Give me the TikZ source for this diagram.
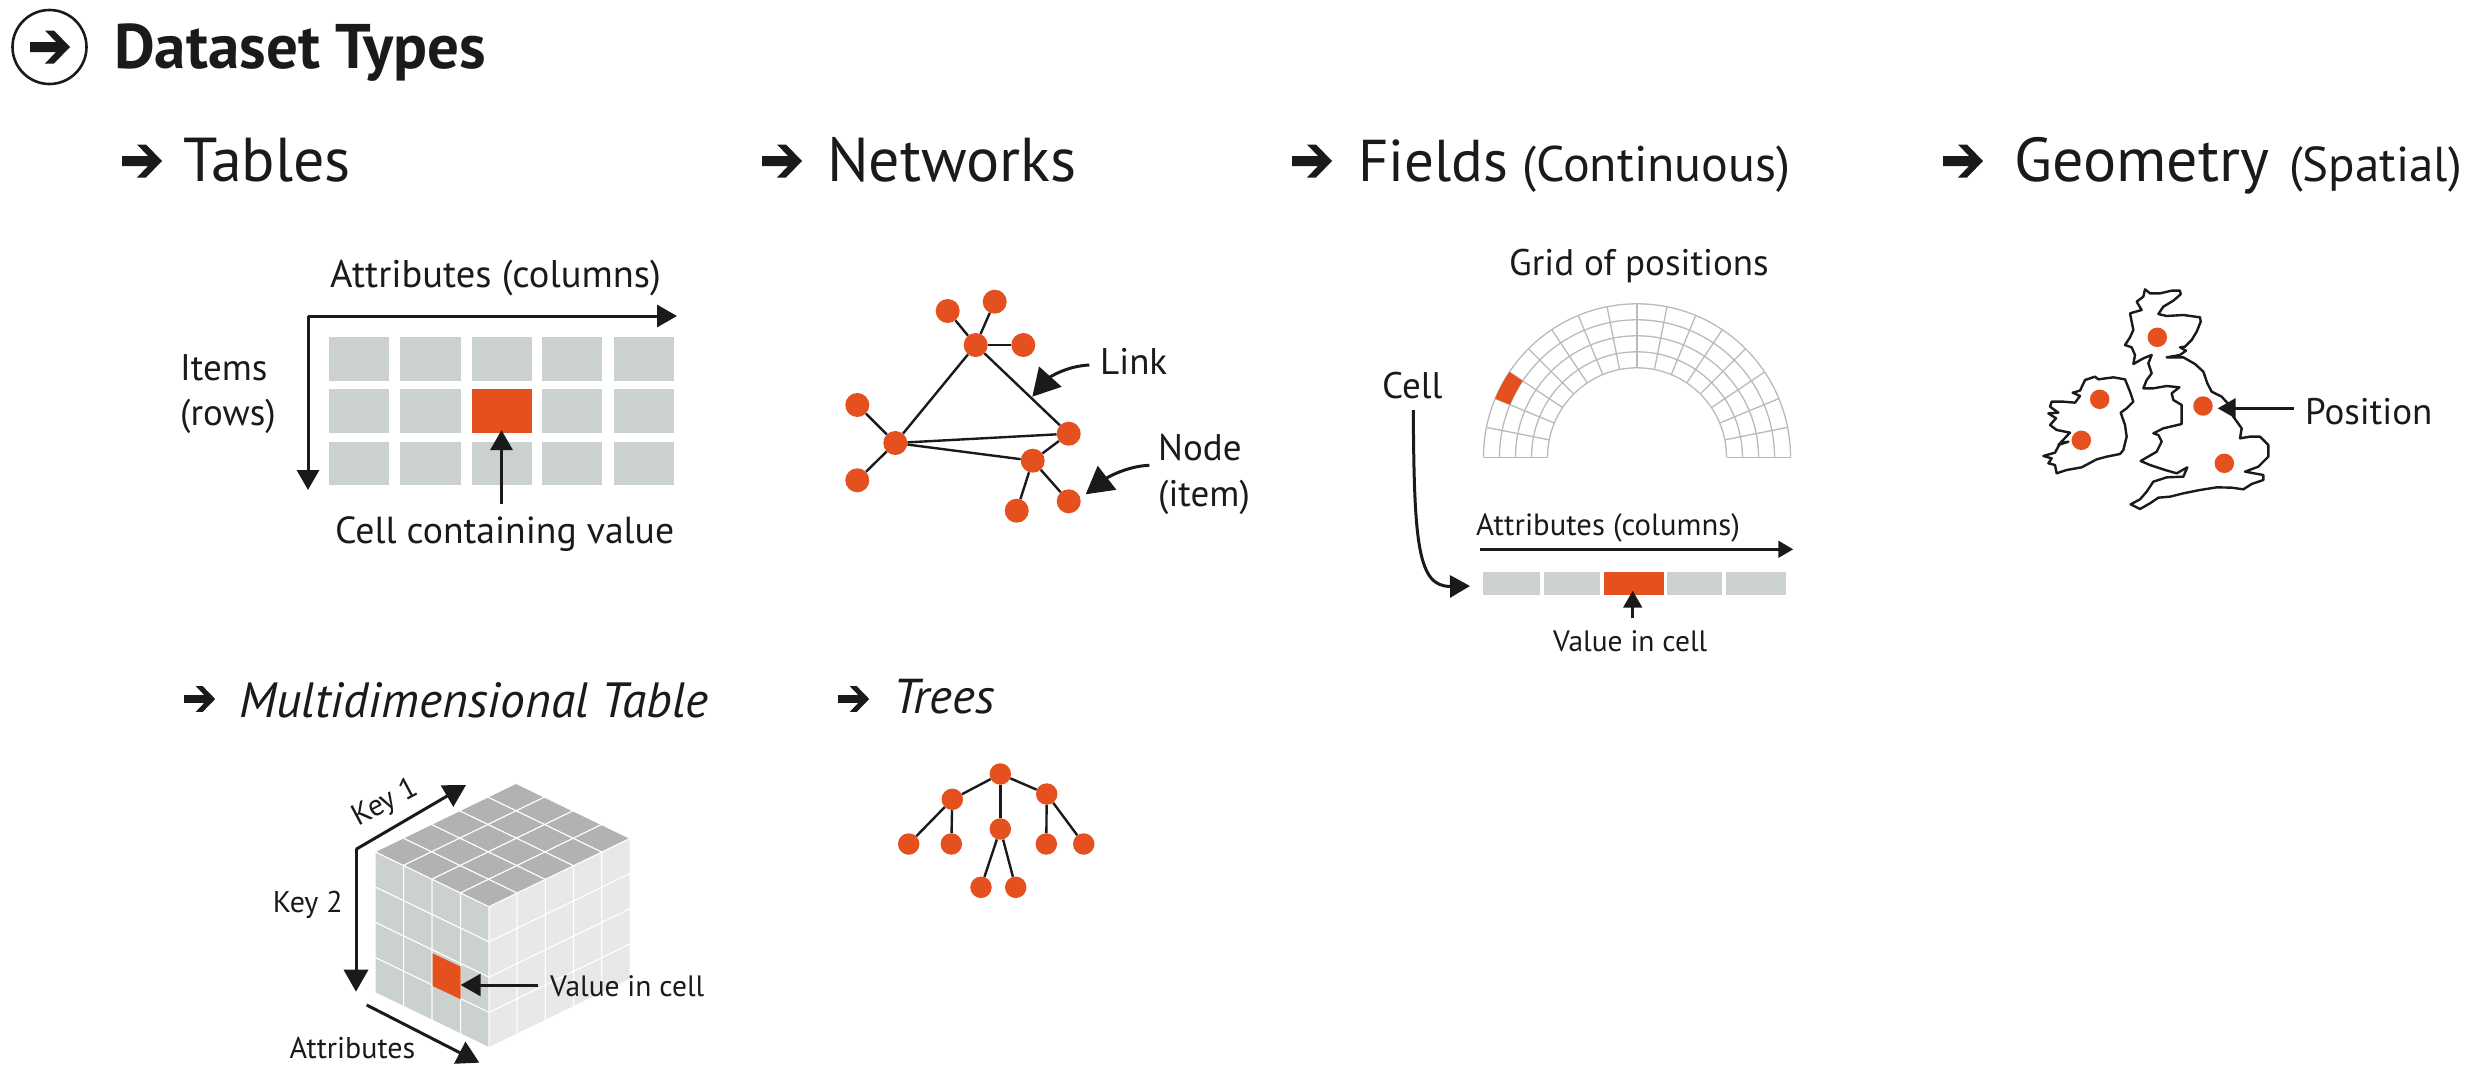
\documentclass[tikz,border=0pt]{standalone}
\usepackage{fontspec}
\setmainfont{PT Sans}
\usetikzlibrary{arrows.meta}
\definecolor{cellgray}{HTML}{CBD1CF}
\definecolor{cellred}{HTML}{E5511E}
\definecolor{inkblack}{HTML}{1A1A1A}
\definecolor{gridgray}{HTML}{B9BBBB}
\definecolor{topgray}{HTML}{B2B2B2}
\definecolor{sidegray}{HTML}{E8E8E8}
\tikzset{
  txt/.style={anchor=base west, inner sep=0pt, text=inkblack, font=\fontsize{#1}{#1}\selectfont},
  dot/.style={circle, fill=cellred, inner sep=0pt, minimum size=#1},
  cell/.style={fill=cellgray, inner sep=0pt, minimum width=60.5pt, minimum height=43.5pt},
  strip/.style={fill=#1, inner sep=0pt, minimum height=23pt},
  edge/.style={draw=inkblack, line width=2.4pt},
  pointer/.style={draw=inkblack, line width=3pt, -{Triangle[length=#1,width=1.1*#1]}, inkblack},
  bulletarrow/.pic={\fill[inkblack] (0,-5) -- (26,-5) -- (15,-16.5) -- (24,-16.5) -- (40,0) -- (24,16.5) -- (15,16.5) -- (26,5) -- (0,5) -- cycle;},
}
\begin{document}
\begin{tikzpicture}[x=1pt,y=-1pt]
\useasboundingbox (0,0) rectangle (2479,1076);
% headings
\node[circle, draw=inkblack, line width=2.6pt, minimum size=74pt, inner sep=0pt] (hcircle) at (49.5,47){};
\pic at (30,47) {bulletarrow};
\node[txt=63] (htitle) at (114,68){\bfseries Dataset Types};
\pic at (122,161) {bulletarrow};
\node[txt=62] (htables) at (183,181){Tables};
\pic at (762,161) {bulletarrow};
\node[txt=62] (hnetworks) at (827,181){Networks};
\pic at (1292,161) {bulletarrow};
\node[txt=59] (hfields) at (1358,181){Fields};
\node[txt=50] (hcont) at (1522,181){(Continuous)};
\pic at (1943,161) {bulletarrow};
\node[txt=62] (hgeom) at (2014,181){Geometry};
\node[txt=49] (hspatial) at (2289,181){(Spatial)};
\pic[scale=.78] at (184,699) {bulletarrow};
\node[txt=49.5] (hmulti) at (239,717){\itshape Multidimensional Table};
\pic[scale=.78] at (838,699) {bulletarrow};
\node[txt=49] (htrees) at (893,713){\itshape Trees};
% table
\node[cell] (tc0) at (359,359){};
\node[cell] (tc1) at (430.5,359){};
\node[cell] (tc2) at (502,359){};
\node[cell] (tc3) at (572,359){};
\node[cell] (tc4) at (644,359){};
\node[cell] (tc5) at (359,411){};
\node[cell] (tc6) at (430.5,411){};
\node[cell, fill=cellred] (tc7) at (502,411){};
\node[cell] (tc8) at (572,411){};
\node[cell] (tc9) at (644,411){};
\node[cell] (tc10) at (359,463.5){};
\node[cell] (tc11) at (430.5,463.5){};
\node[cell] (tc12) at (502,463.5){};
\node[cell] (tc13) at (572,463.5){};
\node[cell] (tc14) at (644,463.5){};
\node[txt=38.5] (tattr) at (330,287){Attributes (columns)};
\node[txt=37] (titems) at (180,380){Items};
\node[txt=37] (trows) at (180,425){(rows)};
\node[txt=37.7] (tvalue) at (335,543){Cell containing value};
\coordinate (tcorner) at (308,316);
\coordinate (tright) at (677,316);
\coordinate (tdown) at (308,490);
\coordinate (tfrom) at (501.5,503.5);
\coordinate (tto) at (501.5,430);
\draw[pointer=20pt] (tcorner) -- (tright);
\draw[pointer=20pt] (tcorner) -- (tdown);
\draw[pointer=20pt] (tfrom) -- (tto);
% network
\node[dot=24pt] (nid0) at (975.7,345){};
\node[dot=24pt] (nid1) at (947.7,311){};
\node[dot=24pt] (nid2) at (994.7,301.7){};
\node[dot=24pt] (nid3) at (1023.3,345){};
\node[dot=24pt] (nid4) at (895.3,443){};
\node[dot=24pt] (nid5) at (857.3,405){};
\node[dot=24pt] (nid6) at (857.3,480.3){};
\node[dot=24pt] (nid7) at (1068.7,433.7){};
\node[dot=24pt] (nid8) at (1032.7,460.7){};
\node[dot=24pt] (nid9) at (1016.7,510.7){};
\node[dot=24pt] (nid10) at (1068.7,501.3){};
\draw[edge] (nid0) -- (nid1);
\draw[edge] (nid0) -- (nid2);
\draw[edge] (nid0) -- (nid3);
\draw[edge] (nid0) -- (nid4);
\draw[edge] (nid0) -- (nid7);
\draw[edge] (nid4) -- (nid5);
\draw[edge] (nid4) -- (nid6);
\draw[edge] (nid4) -- (nid7);
\draw[edge] (nid4) -- (nid8);
\draw[edge] (nid7) -- (nid8);
\draw[edge] (nid8) -- (nid9);
\draw[edge] (nid8) -- (nid10);
\node[txt=37] (nlink) at (1100,374){Link};
\node[txt=37] (nnode) at (1158,460.7){Node};
\node[txt=37] (nitem) at (1158,506.7){(item)};
\coordinate (nlinkfrom) at (1089.3,365);
\coordinate (nlinkto) at (1032.3,396.7);
\coordinate (nnodefrom) at (1149.3,465.3);
\coordinate (nnodeto) at (1085.7,494.3);
\draw[pointer=27pt] (nlinkfrom) .. controls (1067,366) and (1050,377) .. (nlinkto);
\draw[pointer=27pt] (nnodefrom) .. controls (1128,466) and (1108,477) .. (nnodeto);
% tree
\node[dot=21.5pt] (tid0) at (1000.3,774){};
\node[dot=21.5pt] (tid1) at (952.3,799.3){};
\node[dot=21.5pt] (tid2) at (1000.3,829){};
\node[dot=21.5pt] (tid3) at (1046.7,794){};
\node[dot=21.5pt] (tid4) at (908.7,844){};
\node[dot=21.5pt] (tid5) at (951.3,844){};
\node[dot=21.5pt] (tid6) at (1046.3,844){};
\node[dot=21.5pt] (tid7) at (1083.7,844){};
\node[dot=21.5pt] (tid8) at (981,887.3){};
\node[dot=21.5pt] (tid9) at (1015.7,887.3){};
\draw[edge] (tid0) -- (tid1);
\draw[edge] (tid0) -- (tid2);
\draw[edge] (tid0) -- (tid3);
\draw[edge] (tid1) -- (tid4);
\draw[edge] (tid1) -- (tid5);
\draw[edge] (tid2) -- (tid8);
\draw[edge] (tid2) -- (tid9);
\draw[edge] (tid3) -- (tid6);
\draw[edge] (tid3) -- (tid7);
% field grid
\coordinate (gc) at (1637,457.3);
\foreach \r in {89.5,105.5,121.5,137.5,153.5}
  \draw[gridgray, line width=1.3pt] (gc) ++(0:\r) arc[start angle=0, end angle=-180, radius=\r];
\foreach \a in {0,11.25,...,180}
  \draw[gridgray, line width=1.3pt] (gc) ++(-\a:89.5) -- ++(-\a:64);
\fill[cellred] (gc) ++(-146.25:137.5) -- ++(-146.25:16) arc[start angle=-146.25, end angle=-157.5, radius=153.5]
  -- ++(-157.5:-16) arc[start angle=-157.5, end angle=-146.25, radius=137.5] -- cycle;
\node[txt=37] (fgrid) at (1509,275){Grid of positions};
\node[txt=37] (fcell) at (1382,398){Cell};
\node[txt=30.7] (fattr) at (1476,535){Attributes (columns)};
\node[txt=29.5] (fvalue) at (1553,651.7){Value in cell};
\node[strip=cellgray, minimum width=57pt] (fs0) at (1511.8,583.8){};
\node[strip=cellgray, minimum width=56.6pt] (fs1) at (1572,583.8){};
\node[strip=cellred, minimum width=60pt] (fs2) at (1634,583.8){};
\node[strip=cellgray, minimum width=54.7pt] (fs3) at (1694.7,583.8){};
\node[strip=cellgray, minimum width=60pt] (fs4) at (1755.7,583.8){};
\coordinate (fcellfrom) at (1413.3,410);
\coordinate (fcellto) at (1470,586);
\coordinate (fattrfrom) at (1480,549.3);
\coordinate (fattrto) at (1793.3,549.3);
\coordinate (fvalfrom) at (1632.7,618.3);
\coordinate (fvalto) at (1632.7,590.7);
\draw[pointer=20pt] (fcellfrom) .. controls (1414,545) and (1418,587) .. (fcellto);
\draw[pointer=15pt] (fattrfrom) -- (fattrto);
\draw[pointer=17pt] (fvalfrom) -- (fvalto);
% geometry
\begin{scope}[shift={(1950,260)}, scale=1/3]
\draw[inkblack, line width=2.4pt, line join=round, fill=white] (585,88) -- (600,100) -- (630,100) -- (665,92) -- (690,92) -- (692,103) -- (670,122) -- (640,140) -- (625,162) -- (650,168) -- (700,165) -- (750,172) -- (752,185) -- (740,215) -- (725,240) -- (705,260) -- (690,262) -- (708,272) -- (690,285) -- (650,292) -- (700,292) -- (735,312) -- (760,335) -- (772,370) -- (785,395) -- (815,410) -- (835,432) -- (850,470) -- (875,505) -- (870,535) -- (900,530) -- (930,530) -- (955,555) -- (955,590) -- (925,620) -- (885,635) -- (940,645) -- (940,660) -- (905,672) -- (880,688) -- (845,683) -- (800,682) -- (750,690) -- (700,700) -- (660,710) -- (625,713) -- (600,730) -- (570,747) -- (542,733) -- (570,718) -- (590,695) -- (610,665) -- (650,652) -- (700,650) -- (712,622) -- (680,640) -- (645,630) -- (600,615) -- (572,603) -- (620,575) -- (635,545) -- (625,525) -- (610,520) -- (640,505) -- (695,492) -- (695,435) -- (670,420) -- (665,400) -- (688,382) -- (650,378) -- (610,385) -- (580,385) -- (590,360) -- (605,340) -- (595,310) -- (605,285) -- (580,295) -- (550,312) -- (555,285) -- (545,262) -- (525,255) -- (540,232) -- (550,210) -- (545,185) -- (540,160) -- (575,150) -- (560,125) -- (580,110) -- cycle;
\draw[inkblack, line width=2.4pt, line join=round, fill=white] (305,425) -- (340,425) -- (375,428) -- (390,408) -- (368,398) -- (390,392) -- (405,360) -- (435,350) -- (445,358) -- (490,352) -- (525,358) -- (540,395) -- (550,425) -- (530,445) -- (512,458) -- (525,495) -- (530,530) -- (520,570) -- (510,582) -- (470,590) -- (440,598) -- (395,622) -- (350,630) -- (320,640) -- (315,615) -- (295,610) -- (305,595) -- (280,588) -- (315,578) -- (330,550) -- (355,545) -- (325,555) -- (360,518) -- (320,510) -- (300,495) -- (318,475) -- (295,460) -- (325,458) -- (300,440) -- cycle;
\end{scope}
\node[dot=19.5pt] (gid0) at (2157.3,337.3){};
\node[dot=19.5pt] (gid1) at (2099.7,399.3){};
\node[dot=19.5pt] (gid2) at (2081.3,440.3){};
\node[dot=19.5pt] (gid3) at (2203,406){};
\node[dot=19.5pt] (gid4) at (2224.3,463.3){};
\node[txt=37] (gpos) at (2305,424.3){Position};
\coordinate (gfrom) at (2294,408.3);
\coordinate (gto) at (2217.7,408.3);
\draw[pointer=18pt] (gfrom) -- (gto);
% cube
\begin{scope}[shift={(230,740)}, scale=1/3]
\foreach \i in {0,...,3}
  \foreach \j in {0,...,3}
    \filldraw[fill=cellgray, draw=white, line width=1pt] ({435+85.5*\i},{335+41.25*\i+105.75*\j}) -- ++(85.5,41.25) -- ++(0,105.75) -- ++(-85.5,-41.25) -- cycle;
\foreach \i in {0,...,4}
  \foreach \j in {0,...,3}
    \filldraw[fill=sidegray, draw=white, line width=1pt] ({777+84.6*\i},{500-41*\i+105.75*\j}) -- ++(84.6,-41) -- ++(0,105.75) -- ++(-84.6,41) -- cycle;
\foreach \i in {0,...,3}
  \foreach \j in {0,...,4}
    \filldraw[fill=topgray, draw=white, line width=1pt] ({435+85.5*\i+84.6*\j},{335+41.25*\i-41*\j}) -- ++(84.6,-41) -- ++(85.5,41.25) -- ++(-84.6,41) -- cycle;
\fill[cellred] (608,640) -- (692,680) -- (692,778) -- (608,738) -- cycle;
\coordinate (ccorner) at (378,328);
\coordinate (ckey1) at (708,135);
\coordinate (ckey2) at (378,755);
\coordinate (cattrfrom) at (410,795);
\coordinate (cattrto) at (748,968);
\coordinate (cvalfrom) at (925,735);
\coordinate (cvalto) at (692,735);
\end{scope}
\draw[pointer=22pt] (ccorner) -- (ckey1);
\draw[pointer=22pt] (ccorner) -- (ckey2);
\draw[pointer=22pt] (cattrfrom) -- (cattrto);
\draw[pointer=20pt] (cvalfrom) -- (cvalto);
\node[txt=30, rotate=28, anchor=base] (ckey1txt) at (389,810){Key 1};
\node[txt=30] (ckey2txt) at (272.7,912.3){Key 2};
\node[txt=30] (cattrtxt) at (289.3,1058.3){Attributes};
\node[txt=29.5] (cvaltxt) at (550,996.7){Value in cell};
\end{tikzpicture}
\end{document}
